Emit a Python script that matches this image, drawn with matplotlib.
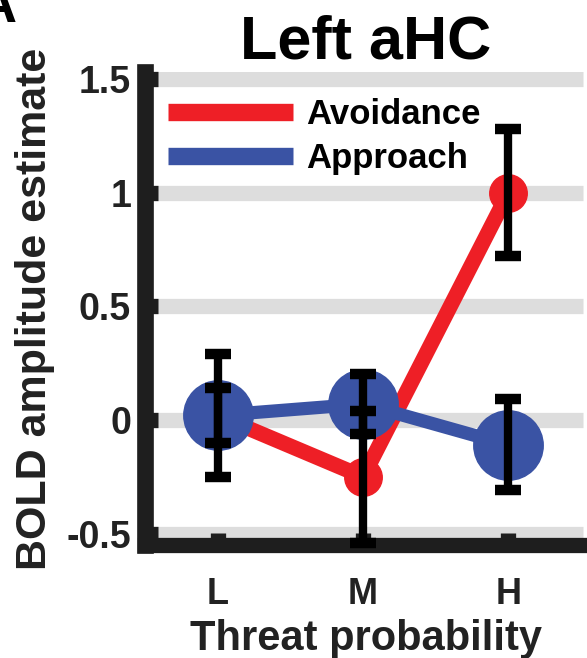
import numpy as np
import matplotlib
matplotlib.use('Agg')
import matplotlib.pyplot as plt

plt.rcParams['font.family'] = ['Liberation Sans', 'DejaVu Sans']
plt.rcParams['font.weight'] = 'bold'

# data
conditions = ['L', 'M', 'H']
avoid_mean = [0.02, -0.25, 1.00]
avoid_err = [0.12, 0.29, 0.28]
approach_mean = [0.02, 0.07, -0.11]
approach_err = [0.27, 0.13, 0.20]
yticks = [-0.5, 0, 0.5, 1, 1.5]
ytick_labels = ['-0.5', '0', '0.5', '1', '1.5']

red = '#ee1f26'
blue = '#3a53a4'
dark = '#1e1e1e'

x = np.arange(1, len(conditions) + 1)

fig = plt.figure(figsize=(5.87, 6.58), dpi=100)
ax = fig.add_axes([0.247, 0.1717, 0.753, 0.7189])

# gray band gridlines
for yv in yticks:
    ax.axhline(yv, xmax=0.99, color='#dddddd', lw=11, zorder=0, solid_capstyle='butt')

ax.plot(x, avoid_mean, color=red, lw=11, marker='o', ms=27, label='Avoidance', zorder=2)
ax.plot(x, approach_mean, color=blue, lw=9.5, marker='o', ms=50, label='Approach', zorder=3)

ax.errorbar(x, avoid_mean, yerr=avoid_err, fmt='none', ecolor='black',
            elinewidth=6, capsize=9.5, capthick=7.5, zorder=5, clip_on=False)
ax.errorbar(x, approach_mean, yerr=approach_err, fmt='none', ecolor='black',
            elinewidth=6, capsize=9.5, capthick=7.5, zorder=5, clip_on=False)

ax.set_xlim(0.5, 3.54)
ax.set_ylim(-0.55, 1.53)
ax.set_xticks(x)
ax.set_xticklabels(conditions)
ax.set_yticks(yticks)
ax.set_yticklabels(ytick_labels)

for side in ['top', 'right']:
    ax.spines[side].set_visible(False)
ax.spines['left'].set_linewidth(12)
ax.spines['bottom'].set_linewidth(11)
ax.spines['left'].set_color(dark)
ax.spines['bottom'].set_color(dark)
ax.spines['left'].set_capstyle('projecting')
ax.spines['bottom'].set_capstyle('projecting')

ax.tick_params(axis='y', direction='in', length=9, width=11, color=dark,
               labelsize=27, pad=10, labelcolor='#222222')
ax.tick_params(axis='x', direction='in', length=9, width=11, color=dark,
               labelsize=26, pad=23, labelcolor='#222222')

ax.set_title('Left aHC', fontsize=44, fontweight='bold', pad=7)
ax.set_xlabel('Threat probability', fontsize=30, fontweight='bold', color='#222222', labelpad=5)
ax.set_ylabel('BOLD amplitude estimate', fontsize=31, fontweight='bold', color='#222222', labelpad=8)

leg = ax.legend(loc='upper left', bbox_to_anchor=(0.052, 0.945), frameon=False,
                fontsize=25, handlelength=3.6, handletextpad=0.38, labelspacing=0.32,
                borderpad=0, borderaxespad=0)
for h in leg.legend_handles:
    h.set_marker('')
    h.set_linewidth(12.5)
    h.set_solid_capstyle('butt')

fig.text(0.029, 0.9666, 'A', fontsize=40, fontweight='bold', ha='right', va='baseline')

fig.savefig('out.png', dpi=100)
